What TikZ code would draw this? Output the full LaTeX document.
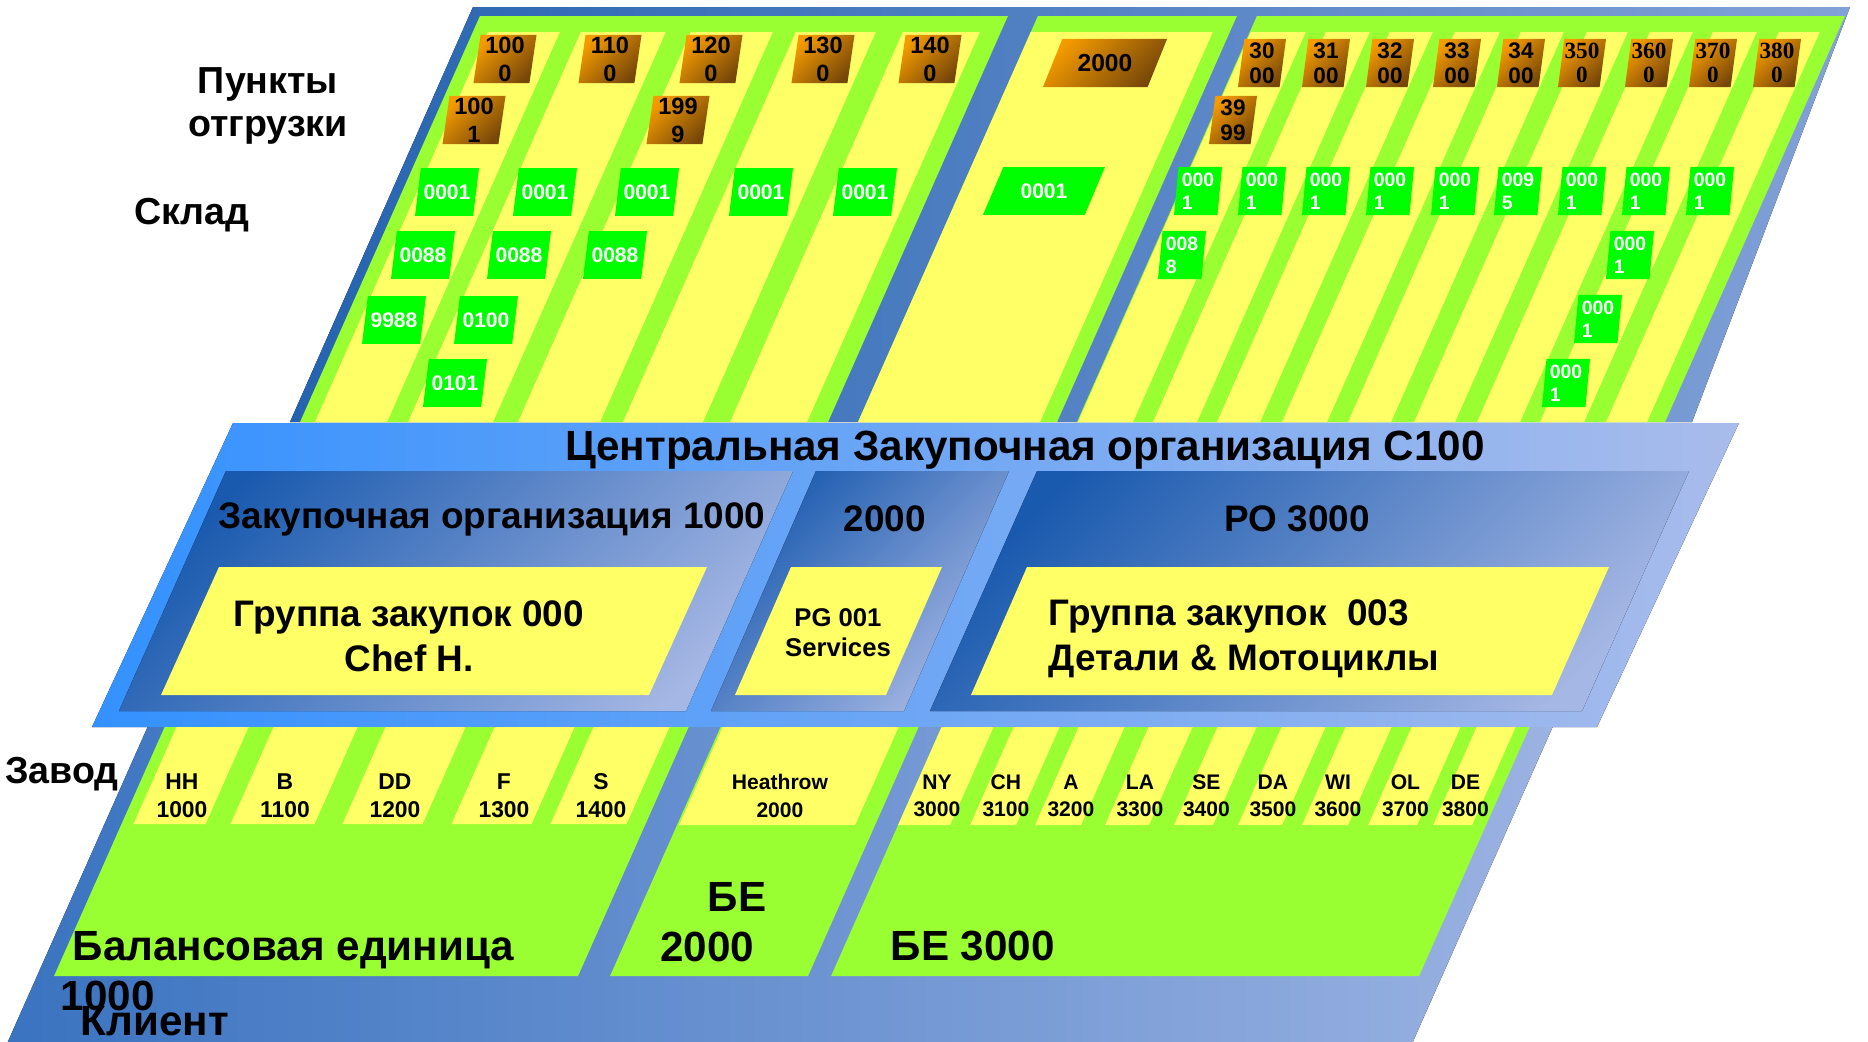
\documentclass[tikz,border=0pt]{standalone}
\usepackage{fontspec}
\setmainfont{Liberation Sans}
\newfontfamily\tmsfont{Liberation Serif}
\usetikzlibrary{shapes.geometric}

\definecolor{limegr}{HTML}{99FF33}
\definecolor{paleyel}{HTML}{FFFF66}
\definecolor{boxgr}{HTML}{00FF00}
\definecolor{ambr}{HTML}{F59B00}
\definecolor{brwn}{HTML}{774709}
\definecolor{deepbl}{HTML}{2563B0}
\definecolor{softbl}{HTML}{82A1D7}
\definecolor{brightbl}{HTML}{3391FF}
\definecolor{palebl}{HTML}{A9BCEB}
\definecolor{pobl}{HTML}{1A5AAE}
\definecolor{polight}{HTML}{A5B7E4}
\definecolor{lowbl}{HTML}{3A73C0}
\definecolor{lowlight}{HTML}{9BB2E2}

\tikzset{
  shipbox/.style={trapezium, trapezium left angle=81, trapezium right angle=99,
    trapezium stretches body, minimum height=0.48cm, inner sep=0pt,
    top color=ambr, bottom color=brwn, shading angle=45, align=center,
    font=\bfseries\fontsize{6.7}{8}\selectfont},
  shipsmall/.style={shipbox, minimum width=0.48cm, font=\bfseries\fontsize{6.4}{7}\selectfont},
  storebox/.style={trapezium, trapezium left angle=83, trapezium right angle=97,
    trapezium stretches body, inner xsep=0pt, inner ysep=0.165cm,
    fill=boxgr, text=white, align=center, font=\bfseries\fontsize{6}{7}\selectfont},
  storesmall/.style={storebox, inner ysep=0pt, minimum height=0.48cm, minimum width=0.48cm, align=left,
    font=\bfseries\fontsize{5.5}{6.6}\selectfont},
  sidelbl/.style={inner sep=0pt, align=center, font=\bfseries\fontsize{10.7}{12.2}\selectfont},
  pofont/.style={inner sep=0pt, font=\bfseries\fontsize{10.5}{12}\selectfont},
  grpfont/.style={inner sep=0pt, font=\bfseries\fontsize{10.5}{12.8}\selectfont},
  plantlbl/.style={inner sep=0pt, align=center, font=\bfseries\fontsize{6.5}{8}\selectfont},
  plantsm/.style={plantlbl, font=\bfseries\fontsize{6}{7.8}\selectfont},
  befont/.style={inner sep=0pt, font=\bfseries\fontsize{12}{14.2}\selectfont}
}

\begin{document}
\begin{tikzpicture}[x=0.01cm,y=-0.01cm]
  %\draw[help lines] (0,0) grid[step=100] (1868,1042);
  \useasboundingbox (0,0) rectangle (1868,1042);

  % warehouses and shipping points
  \fill[left color=deepbl,right color=softbl] (473,7) -- (1850,7) -- (1692,422) -- (290,422) -- cycle;
  \begin{scope}[shift={(187,0)},xslant=0.443]
    \foreach \xa/\xb in {300/828,858/1057,1077/1665}
      \fill[limegr] (\xa,16) -- (\xb,16) -- (\xb,422) -- (\xa,422) -- cycle;
    \foreach \xa/\xb in {315/387,408/493,518/600,623/703,730/807,858/1040,
        1078/1133,1153/1197,1217/1260,1282/1327,1348/1391,1414/1455,1477/1520,1540/1584,1606/1647}
      \fill[paleyel] (\xa,32) -- (\xb,32) -- (\xb,422) -- (\xa,422) -- cycle;
  \end{scope}

  \foreach \cx/\upr/\lwr in {505/100/0,610/110/0,711/120/0,823/130/0,930/140/0}
    \node[shipbox,minimum width=0.63cm] (sp\upr\lwr) at (\cx,59) {\upr\\\lwr};
  \node[shipbox,minimum width=0.63cm] (sp1001) at (474,120) {100\\1};
  \node[shipbox,minimum width=0.63cm] (sp1999) at (678,120) {199\\9};
  \node[shipbox,trapezium left angle=68,trapezium right angle=112,minimum height=0pt,
    inner ysep=0.153cm,minimum width=1.24cm,
    font=\bfseries\fontsize{7}{8}\selectfont] (sp2000) at (1105,63) {2000};
  \foreach \cx/\upr/\lwr in {1262/30/00,1326/31/00,1390/32/00,1457/33/00,1521/34/00}
    \node[shipsmall] (sp\upr\lwr) at (\cx,63) {\upr\\\lwr};
  \foreach \cx/\upr/\lwr in {1582/350/0,1649/360/0,1713/370/0,1777/380/0}
    \node[shipsmall,font=\tmsfont\bfseries\fontsize{6.6}{7}\selectfont] (sp\upr\lwr) at (\cx,63) {\upr\\\lwr};
  \node[shipsmall] (sp3999) at (1233,120) {39\\99};

  \foreach \cx/\cy/\code [count=\k] in {447/192/0001,545/192/0001,647/192/0001,761/192/0001,865/192/0001,
      423/255/0088,519/255/0088,615/255/0088,394/320/9988,486/320/0100,455/383/0101}
    \node[storebox,minimum width=0.64cm] (whA\k) at (\cx,\cy) {\code};
  \node[storebox,trapezium left angle=67,trapezium right angle=113,minimum width=1.22cm] (whB1) at (1044,191) {0001};
  \foreach \cx/\cy/\upr/\lwr [count=\k] in {1198/191/000/1,1262/191/000/1,1326/191/000/1,1390/191/000/1,
      1455/191/000/1,1518/191/009/5,1582/191/000/1,1646/191/000/1,1710/191/000/1,
      1182/255/008/8,1630/255/000/1,1598/319/000/1,1566/383/000/1}
    \node[storesmall] (whC\k) at (\cx,\cy) {\upr\\\lwr};

  \node[sidelbl] (shippts) at (268,106) {Пункты\\отгрузки};
  \node[sidelbl] (storage) at (192,215) {Склад};

  % purchasing organisations
  \fill[left color=brightbl,right color=palebl] (233,423) -- (1739,423) -- (1597,727) -- (92,727) -- cycle;
  \node[befont] (cpo) at (1025,450) {Центральная Закупочная организация С100};
  \foreach \pa/\pb/\pc/\pd in {226/793/686/119,816/1009/904/711,1037/1689/1582/930}
    \fill[top color=pobl,bottom color=polight,shading angle=45] (\pa,471) -- (\pb,471) -- (\pc,711) -- (\pd,711) -- cycle;
  \foreach \pa/\pb/\pc/\pd in {219/707/649/161,791/942/886/735,1027/1609/1552/971}
    \fill[paleyel] (\pa,567) -- (\pb,567) -- (\pc,695) -- (\pd,695) -- cycle;
  \node[pofont] (po1000) at (492,519) {Закупочная организация 1000};
  \node[pofont] (po2000) at (885,519) {2000};
  \node[pofont] (po3000) at (1297,519) {PO 3000};
  \node[grpfont,align=center] (pg000) at (409,636) {Группа закупок 000\\Chef H.};
  \node[inner sep=0pt,align=center,font=\bfseries\fontsize{7.3}{8.5}\selectfont] (pg001) at (838,633) {PG 001\\Services};
  \node[grpfont,align=left,anchor=west] (pg003) at (1048,639) {Группа закупок~~003\\Детали \& Мотоциклы};

  % company codes and plants
  \begin{scope}[shift={(365.4,0)},xslant=0.444]
    \fill[left color=lowbl,right color=lowlight] (105,727) -- (1510,727) -- (1510,1050) -- (105,1050) -- cycle;
    \foreach \xa/\xb in {122/646,678/876,899/1487}
      \fill[limegr] (\xa,727) -- (\xb,727) -- (\xb,976) -- (\xa,976) -- cycle;
    \foreach \xa/\xb/\pcode/\pnum in {134/206/HH/1000,231/315/B/1100,343/423/DD/1200,452/532/F/1300,551/627/S/1400} {
      \fill[paleyel] (\xa,727) -- (\xb,727) -- (\xb,824) -- (\xa,824) -- cycle;
      \node[plantlbl] (pl\pnum) at ({(\xa+\xb)/2},796) {\pcode\\\pnum};
    }
    \fill[paleyel] (680,727) -- (856,727) -- (856,825) -- (680,825) -- cycle;
    \node[plantsm] (pl2000) at (768,796) {Heathrow\\2000};
    \foreach \xa/\xb/\pcode/\pnum in {899/951/NY/3000,971/1017/CH/3100,1036/1082/A/3200,1106/1150/LA/3300,
        1175/1214/SE/3400,1239/1283/DA/3500,1303/1349/WI/3600,1369/1418/OL/3700,1434/1473/DE/3800} {
      \fill[paleyel] (\xa,727) -- (\xb,727) -- (\xb,825) -- (\xa,825) -- cycle;
      \node[plantsm] (pl\pnum) at ({(\xa+\xb)/2},796) {\pcode\\\pnum};
    }
  \end{scope}

  \node[sidelbl] (plants) at (62,774) {Завод};
  \node[befont,align=left,anchor=north west] (be1000) at (72,931) {Балансовая единица\\\hspace*{-0.12cm}1000};
  \node[befont,align=right,anchor=north east] (be2000) at (767,882) {БЕ\\2000\hspace*{0.12cm}};
  \node[befont,anchor=base west] (be3000) at (890,960) {БЕ 3000};
  \node[befont,anchor=base west] (client) at (80,1035) {Клиент};
\end{tikzpicture}
\end{document}
